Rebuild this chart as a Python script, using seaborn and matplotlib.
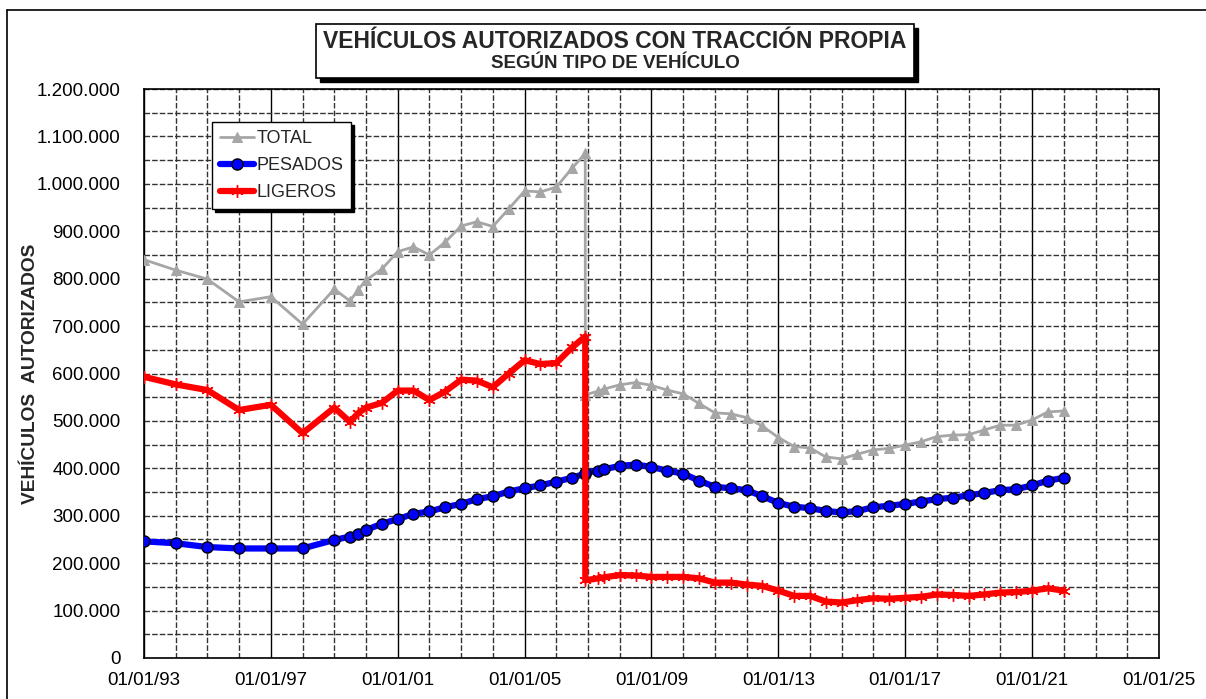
import pandas as pd
import numpy as np
import seaborn as sns
import matplotlib.pyplot as plt
import matplotlib.dates as mdates
from matplotlib.ticker import FuncFormatter, MultipleLocator, FixedLocator
from matplotlib.patches import Rectangle
from matplotlib.lines import Line2D

# Fechas de cada observación (anual al principio, semestral después)
fechas = [
    "1993-01-01", "1994-01-01", "1995-01-01", "1996-01-01", "1997-01-01",
    "1998-01-01", "1999-01-01", "1999-07-01", "1999-10-01", "2000-01-01",
    "2000-07-01", "2001-01-01", "2001-07-01", "2002-01-01", "2002-07-01",
    "2003-01-01", "2003-07-01", "2004-01-01", "2004-07-01", "2005-01-01",
    "2005-07-01", "2006-01-01", "2006-07-01", "2006-11-30", "2006-12-01",
    "2007-05-01", "2007-07-01", "2008-01-01", "2008-07-01", "2009-01-01",
    "2009-07-01", "2010-01-01", "2010-07-01", "2011-01-01", "2011-07-01",
    "2012-01-01", "2012-07-01", "2013-01-01", "2013-07-01", "2014-01-01",
    "2014-07-01", "2015-01-01", "2015-07-01", "2016-01-01", "2016-07-01",
    "2017-01-01", "2017-07-01", "2018-01-01", "2018-07-01", "2019-01-01",
    "2019-07-01", "2020-01-01", "2020-07-01", "2021-01-01", "2021-07-01",
    "2022-01-01",
]

# Valores en miles de vehículos
total = [
    840, 818, 799, 751, 762, 704, 778, 753, 776, 797,
    820, 857, 867, 850, 877, 911, 920, 910, 947, 985,
    983, 993, 1033, 1064, 555, 563, 567, 576, 581, 575,
    565, 557, 537, 517, 515, 507, 489, 465, 446, 443,
    424, 420, 430, 439, 442, 449, 456, 467, 470, 471,
    481, 491, 491, 502, 519, 521,
]
pesados = [
    246, 242, 234, 231, 231, 231, 249, 256, 262, 270,
    283, 293, 304, 309, 318, 325, 335, 341, 351, 358,
    364, 372, 380, 389, 391, 395, 398, 405, 408, 403,
    395, 389, 374, 361, 358, 354, 341, 327, 319, 316,
    310, 307, 310, 318, 321, 325, 330, 335, 338, 343,
    348, 354, 356, 364, 374, 380,
]
ligeros = [
    593, 577, 565, 523, 534, 474, 528, 498, 516, 528,
    538, 564, 564, 544, 562, 587, 585, 571, 600, 628,
    620, 622, 655, 678, 164, 168, 170, 175, 174, 171,
    171, 171, 168, 159, 159, 155, 152, 142, 131, 131,
    119, 117, 122, 126, 125, 127, 129, 134, 133, 131,
    134, 138, 139, 142, 147, 142,
]

tick_years = [1993, 1997, 2001, 2005, 2009, 2013, 2017, 2021, 2025]

df = pd.DataFrame({
    "fecha": pd.to_datetime(fechas),
    "TOTAL": np.array(total) * 1000,
    "PESADOS": np.array(pesados) * 1000,
    "LIGEROS": np.array(ligeros) * 1000,
})

sns.set_theme(style="white")
plt.rcParams["font.family"] = ["Liberation Sans", "DejaVu Sans"]

fig = plt.figure(figsize=(12.06, 6.99), dpi=100)
ax = fig.add_axes([144 / 1206, 1 - 658 / 699, (1159 - 144) / 1206, (658 - 89) / 699])

sns.lineplot(data=df, x="fecha", y="TOTAL", ax=ax, color="#A6A6A6", lw=2,
             marker="^", markersize=7, markeredgecolor="#A6A6A6",
             estimator=None, sort=False, label="TOTAL", zorder=3)
sns.lineplot(data=df, x="fecha", y="PESADOS", ax=ax, color="#0000FF", lw=4.5,
             marker="o", markersize=8, markerfacecolor="#0000FF",
             markeredgecolor="black", markeredgewidth=1,
             estimator=None, sort=False, label="PESADOS", zorder=4)
sns.lineplot(data=df, x="fecha", y="LIGEROS", ax=ax, color="#FF0000", lw=4.5,
             marker=(6, 2, 0), markersize=9, markeredgecolor="#FF0000",
             markeredgewidth=1, estimator=None, sort=False,
             label="LIGEROS", zorder=5)

# Ejes
ax.set_xlim(pd.Timestamp("1993-01-01"), pd.Timestamp("2025-01-01"))
ax.set_ylim(0, 1200000)
ticks = [mdates.date2num(pd.Timestamp(f"{y}-01-01")) for y in tick_years]
minor = [mdates.date2num(pd.Timestamp(f"{y}-01-01")) for y in range(1993, 2026)]
ax.xaxis.set_major_locator(FixedLocator(ticks))
ax.xaxis.set_minor_locator(FixedLocator(minor))
ax.xaxis.set_major_formatter(mdates.DateFormatter("%d/%m/%y"))
ax.yaxis.set_major_locator(MultipleLocator(100000))
ax.yaxis.set_minor_locator(MultipleLocator(50000))
ax.yaxis.set_major_formatter(FuncFormatter(lambda v, p: f"{int(v):,}".replace(",", ".")))

ax.tick_params(axis="both", which="both", length=0, labelsize=13.5, colors="black")
ax.tick_params(axis="x", pad=10)
ax.tick_params(axis="y", pad=17)

ax.grid(True, which="major", axis="x", color="black", lw=1, ls="-")
ax.grid(True, which="minor", axis="x", color="#333333", lw=1, ls=(0, (4, 1.5)))
ax.grid(True, which="both", axis="y", color="#333333", lw=1, ls=(0, (4, 1.5)))
ax.set_axisbelow(True)
for s in ax.spines.values():
    s.set_visible(True)
    s.set_color("black")
    s.set_linewidth(1.2)

ax.set_xlabel("")
ax.set_ylabel("VEHÍCULOS  AUTORIZADOS", fontsize=13.8, fontweight="bold")
ax.yaxis.set_label_coords(-0.103, 0.5)

leg = ax.legend(loc="upper left", bbox_to_anchor=(0.067, 0.942), borderaxespad=0,
                fontsize=13, frameon=True, fancybox=False, edgecolor="black",
                framealpha=1, shadow={"color": "black", "alpha": 1},
                handlelength=1.9, handletextpad=0.1, labelspacing=0.55,
                borderpad=0.45)
leg.get_frame().set_linewidth(1)

# Recuadro del título con sombra
bx, by, bw, bh = 316 / 1206, 1 - 78 / 699, 598 / 1206, 54 / 699
fig.patches.append(Rectangle((bx + 4 / 1206, by - 4 / 699), bw, bh, transform=fig.transFigure,
                             facecolor="black", edgecolor="black", zorder=1))
fig.patches.append(Rectangle((bx, by), bw, bh, transform=fig.transFigure,
                             facecolor="white", edgecolor="black", lw=1.2, zorder=2))
fig.text(615 / 1206, 1 - 41 / 699, "VEHÍCULOS AUTORIZADOS CON TRACCIÓN PROPIA",
         ha="center", va="center", fontsize=16.5, fontweight="bold", zorder=3)
fig.text(615 / 1206, 1 - 64 / 699, "SEGÚN TIPO DE VEHÍCULO",
         ha="center", va="center", fontsize=13.5, fontweight="bold", zorder=3)

# Marco exterior del gráfico
fig.add_artist(Line2D([7 / 1206, 1], [1 - 10 / 699, 1 - 10 / 699], transform=fig.transFigure,
                      color="black", lw=1.2))
fig.add_artist(Line2D([7 / 1206, 7 / 1206], [0, 1 - 10 / 699], transform=fig.transFigure,
                      color="black", lw=1.2))

fig.savefig("out.png", dpi=100, facecolor="white")
plt.close(fig)
